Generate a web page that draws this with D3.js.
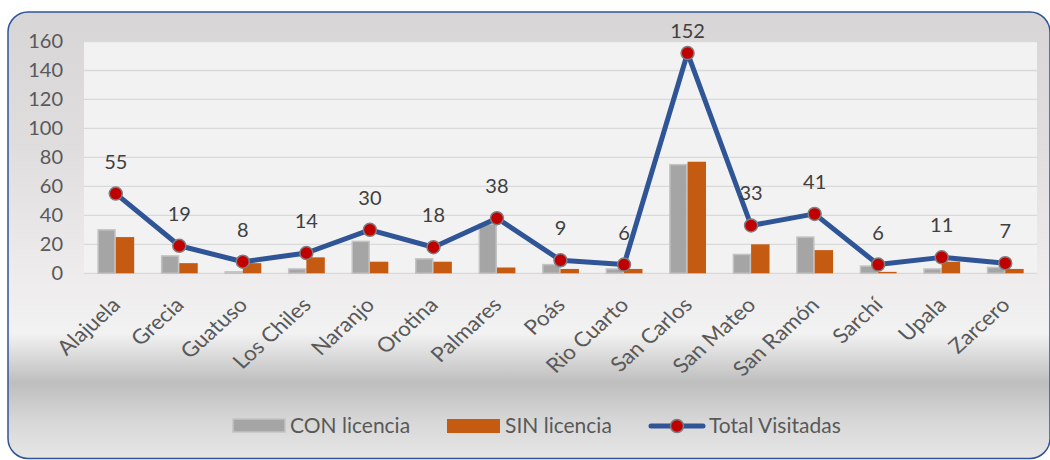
<!DOCTYPE html>
<html>
<head>
<meta charset="utf-8">
<script src="https://cdn.jsdelivr.net/npm/d3@7"></script>
<style>
  body { margin: 0; background: #fff; }
  svg { display: block; font-family: Lato, "Open Sans", sans-serif; }
</style>
</head>
<body>
<svg id="chart"></svg>
<script>
//------ Datos ------
var cantones = ["Alajuela", "Grecia", "Guatuso", "Los Chiles", "Naranjo", "Orotina", "Palmares",
  "Poás", "Rio Cuarto", "San Carlos", "San Mateo", "San Ramón", "Sarchí", "Upala", "Zarcero"];
var conLicencia = [30, 12, 1, 3, 22, 10, 34, 6, 3, 75, 13, 25, 5, 3, 4];
var sinLicencia = [25, 7, 7, 11, 8, 8, 4, 3, 3, 77, 20, 16, 1, 8, 3];
var totalVisitadas = [55, 19, 8, 14, 30, 18, 38, 9, 6, 152, 33, 41, 6, 11, 7];
var yTicks = [0, 20, 40, 60, 80, 100, 120, 140, 160];
var seriesNames = ["CON licencia", "SIN licencia", "Total Visitadas"];

//------ Cadre ------
var width = 1050,
    height = 460;

var svg = d3.select("#chart")
    .attr("width", width)
    .attr("height", height);

var defs = svg.append("defs");
var grad = defs.append("linearGradient")
    .attr("id", "fondo")
    .attr("x1", 0).attr("y1", 0).attr("x2", 0).attr("y2", 1);
[[0, "#d7d5d6"], [0.3, "#dfddde"], [0.6, "#eeeced"], [0.72, "#f2f2f2"],
 [0.83, "#bebebe"], [0.92, "#d8d8d8"], [1, "#e6e6e6"]].forEach(function (s) {
  grad.append("stop").attr("offset", s[0]).attr("stop-color", s[1]);
});

// fond du graphique, coins arrondis
svg.append("rect")
    .attr("x", 8).attr("y", 12)
    .attr("width", 1042).attr("height", 446.5)
    .attr("rx", 20).attr("ry", 20)
    .attr("fill", "url(#fondo)")
    .attr("stroke", "#2f5597")
    .attr("stroke-width", 1.5);

var plot = { left: 84, right: 1037, top: 41.5, bottom: 273.3 };

// zone de tracé
svg.append("rect")
    .attr("x", plot.left).attr("y", plot.top)
    .attr("width", plot.right - plot.left).attr("height", plot.bottom - plot.top)
    .attr("fill", "#f2f2f2");

//------ Echelles ------
var x = d3.scaleBand()
    .domain(cantones)
    .range([plot.left, plot.right])
    .paddingInner(0.42)
    .paddingOuter(0.21);

var xs = d3.scaleBand()
    .domain(["con", "sin"])
    .range([0, x.bandwidth()]);

var y = d3.scaleLinear()
    .domain([0, 160])
    .range([plot.bottom, plot.top]);

// lignes de grille
svg.append("g")
    .selectAll("line")
    .data(yTicks)
    .enter()
    .append("line")
    .attr("x1", plot.left).attr("x2", plot.right)
    .attr("y1", d => y(d)).attr("y2", d => y(d))
    .attr("stroke", "#d9d9d9")
    .attr("stroke-width", 1.3);

// axe Y
var yAxis = svg.append("g")
    .attr("transform", "translate(" + (plot.left - 21) + ",0)")
    .call(d3.axisLeft(y).tickValues(yTicks).tickSize(0).tickPadding(0));
yAxis.select(".domain").remove();
yAxis.selectAll("text")
    .attr("fill", "#595959")
    .style("font-size", "20px")
    .style("font-family", "Lato, sans-serif");

// axe X, étiquettes inclinées
var xAxis = svg.append("g")
    .attr("transform", "translate(0," + plot.bottom + ")")
    .call(d3.axisBottom(x).tickSize(0).tickPadding(0));
xAxis.select(".domain").remove();
xAxis.selectAll("text")
    .attr("fill", "#595959")
    .style("font-size", "20.5px")
    .style("font-family", "Lato, sans-serif")
    .attr("text-anchor", "end")
    .attr("dy", 0)
    .attr("y", 0)
    .attr("transform", "translate(6,33) scale(1.1,1) rotate(-45)");

//------ Barres ------
var groups = svg.append("g")
    .selectAll("g")
    .data(cantones)
    .enter()
    .append("g")
    .attr("transform", d => "translate(" + x(d) + ",0)");

groups.append("rect")
    .attr("x", xs("con") + 0.75)
    .attr("y", (d, i) => y(conLicencia[i]))
    .attr("width", xs.bandwidth() - 1.5)
    .attr("height", (d, i) => y(0) - y(conLicencia[i]))
    .attr("fill", "#a5a5a5")
    .attr("stroke", "#c3c3c3")
    .attr("stroke-width", 1.5);

groups.append("rect")
    .attr("x", xs("sin"))
    .attr("y", (d, i) => y(sinLicencia[i]))
    .attr("width", xs.bandwidth())
    .attr("height", (d, i) => y(0) - y(sinLicencia[i]))
    .attr("fill", "#c55a11");

//------ Ligne ------
var cx = d => x(d) + x.bandwidth() / 2;

var line = d3.line()
    .x((d, i) => cx(cantones[i]))
    .y(d => y(d));

svg.append("path")
    .datum(totalVisitadas)
    .attr("d", line)
    .attr("fill", "none")
    .attr("stroke", "#2f5597")
    .attr("stroke-width", 5)
    .attr("stroke-linejoin", "round");

svg.append("g")
    .selectAll("circle")
    .data(totalVisitadas)
    .enter()
    .append("circle")
    .attr("cx", (d, i) => cx(cantones[i]))
    .attr("cy", d => y(d))
    .attr("r", 6.5)
    .attr("fill", "#c00000")
    .attr("stroke", "#7f7f7f")
    .attr("stroke-width", 1.5);

// etiquettes de valeurs
svg.append("g")
    .selectAll("text")
    .data(totalVisitadas)
    .enter()
    .append("text")
    .attr("x", (d, i) => cx(cantones[i]))
    .attr("y", d => Math.max(y(d) - 25, 37.5))
    .attr("text-anchor", "middle")
    .attr("fill", "#404040")
    .style("font-size", "20px")
    .text(d => d);

//------ Légende ------
var legend = svg.append("g").style("font-size", "21px");

legend.append("rect")
    .attr("x", 233).attr("y", 419).attr("width", 52).attr("height", 13)
    .attr("fill", "#a5a5a5").attr("stroke", "#c3c3c3").attr("stroke-width", 1.5);
legend.append("text")
    .attr("x", 290).attr("y", 433).attr("fill", "#595959").text(seriesNames[0]);

legend.append("rect")
    .attr("x", 447).attr("y", 419).attr("width", 53).attr("height", 14)
    .attr("fill", "#c55a11");
legend.append("text")
    .attr("x", 505).attr("y", 433).attr("fill", "#595959").text(seriesNames[1]);

legend.append("line")
    .attr("x1", 651).attr("x2", 703).attr("y1", 426).attr("y2", 426)
    .attr("stroke", "#2f5597").attr("stroke-width", 5).attr("stroke-linecap", "round");
legend.append("circle")
    .attr("cx", 677).attr("cy", 426).attr("r", 6.5)
    .attr("fill", "#c00000").attr("stroke", "#7f7f7f").attr("stroke-width", 1.5);
legend.append("text")
    .attr("x", 709).attr("y", 433).attr("fill", "#595959").text(seriesNames[2]);
</script>
</body>
</html>
